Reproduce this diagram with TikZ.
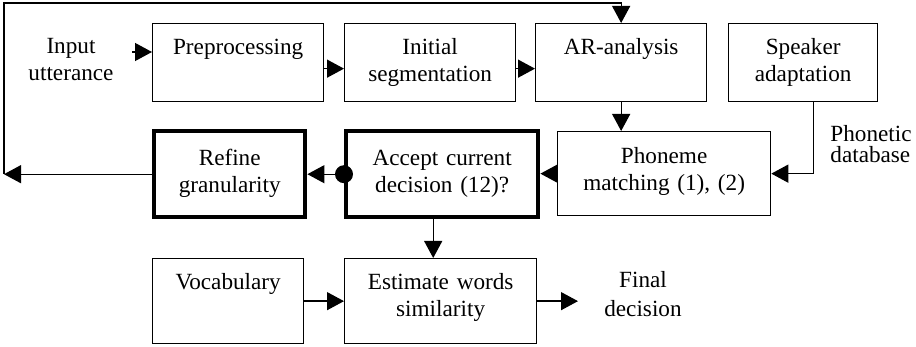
\documentclass[tikz,border=0pt]{standalone}
\usepackage{fontspec}
\setmainfont{Liberation Serif}
\usetikzlibrary{arrows.meta}

\begin{document}
\begin{tikzpicture}[x = 0.5pt, y = -0.5pt,
		font = \fontsize{11.6}{13.5}\selectfont,
		>= {Triangle[length=8.5pt,width=9pt]},
		blk/.style = {draw=black, line width=0.65pt, inner sep=0pt,
			align=center, anchor=north west},
		thk/.style = {blk, line width=2.2pt},
		txt/.style = {inner sep=0pt, align=center, anchor=base},
		lin/.style = {line width=0.65pt}]
			\useasboundingbox (0,0) rectangle (916,347);
			% first row
			\node[blk, text width=85.5pt,
			text height=15.5pt, text depth=23.5pt] (1) at(152,23){Preprocessing};
			\node[blk, text width=85.5pt,
			text height=15.5pt, text depth=23.5pt] (2) at(344,23){Initial\\segmentation};
			\node[blk, text width=85.5pt,
			text height=15.5pt, text depth=23.5pt] (3) at(535,23){AR-analysis};
			\node[blk, text width=74.5pt,
			text height=15.5pt, text depth=23.5pt] (4) at(728,23){Speaker\\adaptation};
			% second row
			\node[blk, text width=106.5pt,
			text height=16pt, text depth=26pt] (5) at(557,131){Phoneme\\matching (1), (2)};
			\node[thk, text width=96pt,
			text height=17pt, text depth=26pt] (6) at(344,129){Accept current\\decision (12)?};
			\node[thk, text width=75.5pt,
			text height=17pt, text depth=26pt] (7) at(152,129){Refine\\granularity};
			% third row
			\node[blk, text width=75.5pt,
			text height=15.5pt, text depth=27pt] (8) at(152,258){Vocabulary};
			\node[blk, text width=96pt,
			text height=15.5pt, text depth=27pt] (9) at(344,258){Estimate words\\similarity};
			% free texts
			\node[txt, text width=60pt] (10) at(71,54){Input\\utterance};
			\node[txt, text width=45pt, align=left,
			anchor=base west] (11) at(830,142){Phonetic\\[-3pt]database};
			\node[txt, text width=50pt] (12) at(643,288){Final\\[1pt]decision};
			\coordinate (c0) at(132,52);
			\coordinate (c2) at(4,3);
			\coordinate (c4) at(578,300);
			% connectors
			\draw[lin, ->] (c0) -- (1.west |- c0);
			\draw[lin, ->] ([yshift=-3pt]1.east) -- ([yshift=-3pt]2.west);
			\draw[lin, ->] ([yshift=-3pt]2.east) -- ([yshift=-3pt]3.west);
			\draw[lin, ->] (3.south) -- (3.south |- 5.north);
			\draw[lin, ->] ([xshift=5pt]4.south) |- (5.east);
			\draw[lin, ->] (5.west) -- (5.west -| 6.east);
			\draw[lin, ->] (6.west) -- (7.east);
			\fill (6.west) circle (4.5pt);
			\draw[lin, ->] (7.west) -- (7.west -| c2);
			\draw[lin, ->] (7.west -| c2) -- (c2) -| (3.north);
			\draw[lin, ->] ([xshift=-4.5pt]6.south) -- ([xshift=-4.5pt]6.south |- 9.north);
			\draw[lin, ->] (8.east) -- (9.west);
			\draw[lin, ->] (9.east) -- (9.east -| c4);
		\end{tikzpicture}
\end{document}
